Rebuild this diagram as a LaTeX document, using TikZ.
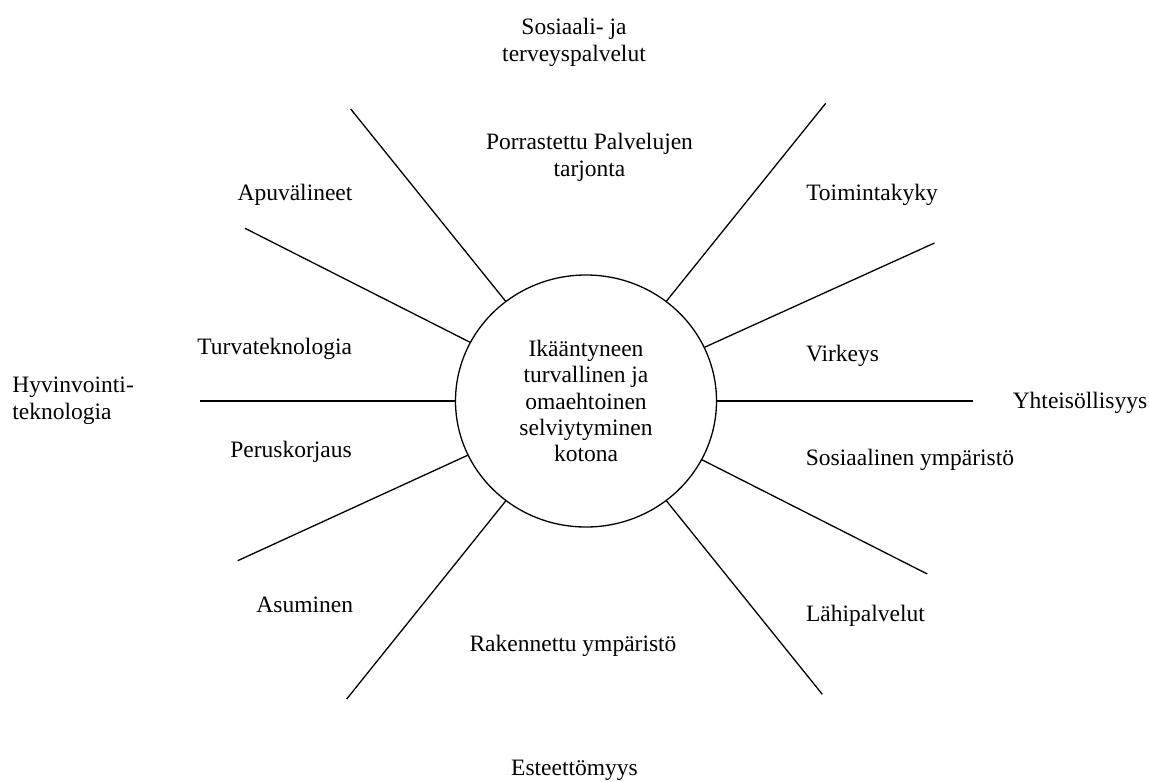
\documentclass[tikz,border=0pt]{standalone}
\usepackage{fontspec}
\setmainfont{Liberation Serif}
\usetikzlibrary{shapes.geometric}
\begin{document}
\begin{tikzpicture}[x=0.5pt,y=-0.5pt,
  lbl/.style={font=\fontsize{11.75}{13.2}\selectfont, inner sep=0pt, align=center},
  spoke/.style={line width=0.65pt, draw=black}]
\useasboundingbox (0,0) rectangle (1149,781);
\node[draw, ellipse, line width=0.65pt, minimum width=130.5pt, minimum height=126pt, lbl] (hub) at (586,401)
  {Ikääntyneen\\turvallinen ja\\omaehtoinen\\selviytyminen\\kotona};
\coordinate (e1) at (350.7,109);
\coordinate (e2) at (825.7,103.3);
\coordinate (e3) at (245,228.3);
\coordinate (e4) at (934.5,243);
\coordinate (e5) at (200,401);
\coordinate (e6) at (973,401);
\coordinate (e7) at (237.7,560.7);
\coordinate (e8) at (927.3,574);
\coordinate (e9) at (346.7,699);
\coordinate (e10) at (822.3,694.3);
\foreach \e in {e1,e2,e3,e4,e5,e6,e7,e8,e9,e10}
  \draw[spoke] (hub) -- (\e);
\node[lbl] (t1) at (574,42.3) {Sosiaali- ja\\terveyspalvelut};
\node[lbl] (t2) at (589.5,157.5) {Porrastettu Palvelujen\\tarjonta};
\node[lbl, anchor=west, align=left] (t3) at (12,400.8) {Hyvinvointi-\\teknologia};
\node[lbl, anchor=base] (t4) at (295,200) {Apuvälineet};
\node[lbl, anchor=base] (t5) at (872,200) {Toimintakyky};
\node[lbl, anchor=base] (t6) at (274.7,354.7) {Turvateknologia};
\node[lbl, anchor=base] (t7) at (842.5,361) {Virkeys};
\node[lbl, anchor=base] (t8) at (1080,408) {Yhteisöllisyys};
\node[lbl, anchor=base] (t9) at (291,457) {Peruskorjaus};
\node[lbl, anchor=base] (t10) at (910,465) {Sosiaalinen ympäristö};
\node[lbl, anchor=base] (t11) at (304.7,612) {Asuminen};
\node[lbl, anchor=base] (t12) at (865.5,621) {Lähipalvelut};
\node[lbl, anchor=base] (t13) at (573,651) {Rakennettu ympäristö};
\node[lbl, anchor=base] (t14) at (574.5,775) {Esteettömyys};
\end{tikzpicture}
\end{document}
